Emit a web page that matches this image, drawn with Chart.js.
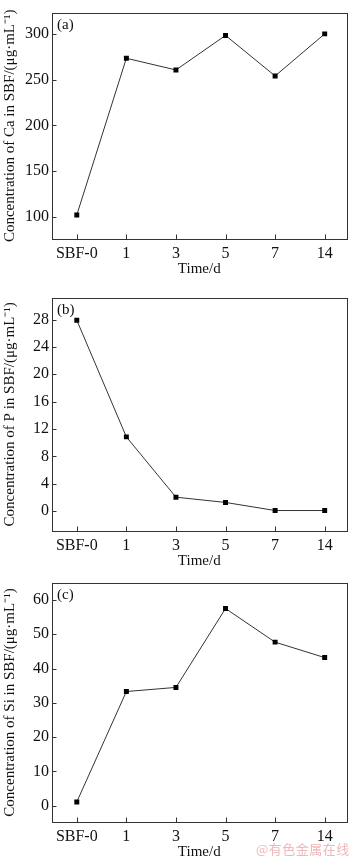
<!DOCTYPE html>
<html>
<head>
<meta charset="utf-8">
<script src="https://cdn.jsdelivr.net/npm/chart.js@4.4.1/dist/chart.umd.min.js"></script>
<style>
  html, body { margin: 0; padding: 0; background: #fff; overflow: hidden; }
  body { width: 350px; height: 858px; position: relative; }
  canvas { position: absolute; left: 0; }
  #mark { position: absolute; left: 256px; top: 839px; font: 13px "Noto Sans CJK SC"; color: #f0b6b8; letter-spacing: 0.5px; }
</style>
</head>
<body>
<canvas id="chartCa" width="350" height="285" style="top:0"></canvas>
<canvas id="chartP" width="350" height="285" style="top:285px"></canvas>
<canvas id="chartSi" width="350" height="291" style="top:570px"></canvas>
<div id="mark">@有色金属在线</div>
<script>
const timeLabels = ['SBF-0', '1', '3', '5', '7', '14'];
const caValues = [102, 273.6, 260.8, 298.6, 254.2, 300.3];
const pValues = [27.9, 10.86, 2.05, 1.28, 0.1, 0.1];
const siValues = [1.1, 33.3, 34.5, 57.5, 47.7, 43.2];
const caTicks = [100, 150, 200, 250, 300];
const pTicks = [0, 4, 8, 12, 16, 20, 24, 28];
const siTicks = [0, 10, 20, 30, 40, 50, 60];

const serif = '"Liberation Serif", "Times New Roman", serif';

// box round the plot, inward ticks and the (a)/(b)/(c) tag
const framePlugin = {
  id: 'frame',
  afterDraw(chart, args, opts) {
    const { ctx, chartArea: a, scales: { x, y } } = chart;
    const l = Math.round(a.left) + 0.5, t = Math.round(a.top) + 0.5;
    const r = Math.round(a.right) + 0.5, b = Math.round(a.bottom) + 0.5;
    ctx.save();
    ctx.strokeStyle = '#333';
    ctx.lineWidth = 1;
    ctx.strokeRect(l, t, r - l, b - t);
    ctx.beginPath();
    x.ticks.forEach(tk => {
      const px = Math.round(x.getPixelForValue(tk.value)) + 0.5;
      ctx.moveTo(px, b);
      ctx.lineTo(px, b - 5);
    });
    y.ticks.forEach(tk => {
      const py = Math.round(y.getPixelForValue(tk.value)) + 0.5;
      ctx.moveTo(l, py);
      ctx.lineTo(l + 4, py);
    });
    ctx.stroke();
    ctx.fillStyle = '#111';
    ctx.font = '15px ' + serif;
    ctx.textBaseline = 'middle';
    ctx.fillText(opts.tag, a.left + 5, a.top + 12);
    ctx.restore();
  }
};

function makeChart(id, values, yMin, yMax, yTicks, yTitle, tag, padTop, padBottom) {
  return new Chart(document.getElementById(id), {
    type: 'scatter',
    data: {
      datasets: [{
        data: values.map((v, i) => ({ x: i, y: v })),
        showLine: true,
        borderColor: '#333',
        borderWidth: 1,
        pointStyle: 'rect',
        pointRadius: 3.5,
        pointHoverRadius: 3.5,
        pointBackgroundColor: '#000',
        pointBorderWidth: 0
      }]
    },
    options: {
      responsive: false,
      animation: false,
      events: [],
      layout: { padding: { top: padTop, bottom: padBottom, left: 0, right: 3 } },
      plugins: {
        legend: { display: false },
        tooltip: { enabled: false },
        frame: { tag: tag }
      },
      scales: {
        x: {
          type: 'linear',
          min: -0.5,
          max: 5.44,
          grid: { display: false, drawTicks: false },
          border: { display: false },
          afterBuildTicks: s => { s.ticks = timeLabels.map((_, i) => ({ value: i })); },
          afterFit: s => { s.height = 39; },
          ticks: {
            color: '#111',
            font: { family: serif, size: 16 },
            padding: 5,
            maxRotation: 0,
            callback: v => timeLabels[v]
          },
          title: {
            display: true,
            text: 'Time/d',
            color: '#111',
            font: { family: serif, size: 15 },
            padding: { top: 0, bottom: 0 }
          }
        },
        y: {
          min: yMin,
          max: yMax,
          grid: { display: false, drawTicks: false },
          border: { display: false },
          afterBuildTicks: s => { s.ticks = yTicks.map(v => ({ value: v })); },
          afterFit: s => { s.width = 52; },
          ticks: {
            color: '#111',
            font: { family: serif, size: 16 },
            padding: 3
          },
          title: {
            display: true,
            text: yTitle,
            color: '#111',
            font: { family: serif, size: 15 },
            padding: { top: 1, bottom: 0 }
          }
        }
      }
    },
    plugins: [framePlugin]
  });
}

makeChart('chartCa', caValues, 75.7, 323.6, caTicks, 'Concentration of Ca in SBF/(μg·mL⁻¹)', '(a)', 1, 7);
makeChart('chartP', pValues, -2.89, 31.2, pTicks, 'Concentration of P in SBF/(μg·mL⁻¹)', '(b)', 6, 0);
makeChart('chartSi', siValues, -4.75, 64.95, siTicks, 'Concentration of Si in SBF/(μg·mL⁻¹)', '(c)', 13, 0);
</script>
</body>
</html>
